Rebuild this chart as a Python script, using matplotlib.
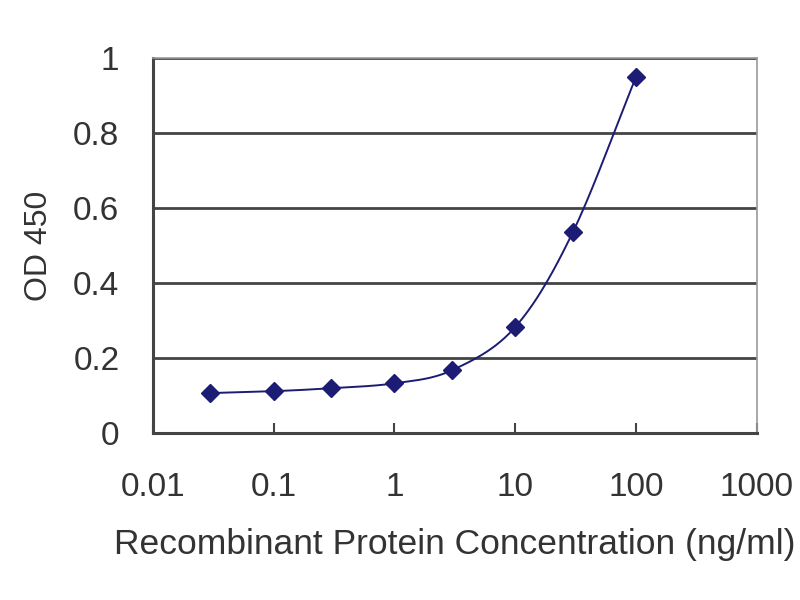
import numpy as np
import matplotlib
matplotlib.use("Agg")
import matplotlib.pyplot as plt

# ELISA standard curve
concentration = [0.03, 0.1, 0.3, 1, 3, 10, 30, 100]
od450 = [0.107, 0.112, 0.12, 0.133, 0.168, 0.283, 0.536, 0.95]

x_ticks = [0.01, 0.1, 1, 10, 100, 1000]
x_tick_labels = ["0.01", "0.1", "1", "10", "100", "1000"]
y_ticks = [0, 0.2, 0.4, 0.6, 0.8, 1]
y_tick_labels = ["0", "0.2", "0.4", "0.6", "0.8", "1"]

LINE_COLOR = "#1c1c74"
TEXT_COLOR = "#333333"


def smooth_line(xs, ys, steps=30):
    # Catmull-Rom through the points in log-x space, like a spreadsheet "smoothed line"
    lx = np.log10(xs)
    ys = np.asarray(ys, dtype=float)
    px = np.concatenate([[2 * lx[0] - lx[1]], lx, [2 * lx[-1] - lx[-2]]])
    py = np.concatenate([[2 * ys[0] - ys[1]], ys, [2 * ys[-1] - ys[-2]]])
    out_x, out_y = [], []
    t = np.linspace(0, 1, steps)
    for i in range(1, len(px) - 2):
        for p, out in ((px, out_x), (py, out_y)):
            p0, p1, p2, p3 = p[i - 1], p[i], p[i + 1], p[i + 2]
            seg = 0.5 * ((2 * p1) + (-p0 + p2) * t
                         + (2 * p0 - 5 * p1 + 4 * p2 - p3) * t ** 2
                         + (-p0 + 3 * p1 - 3 * p2 + p3) * t ** 3)
            out.extend(seg)
    return 10 ** np.array(out_x), np.array(out_y)


plt.rcParams["font.family"] = ["Liberation Sans", "DejaVu Sans"]

fig = plt.figure(figsize=(8, 6), dpi=100)
ax = fig.add_axes([0.191, 0.278, 0.755, 0.625])

sx, sy = smooth_line(concentration, od450)
ax.plot(sx, sy, color=LINE_COLOR, linewidth=1.4, zorder=3)
ax.plot(concentration, od450, linestyle="none", marker="D", markersize=9.5,
        color=LINE_COLOR, zorder=4)

ax.set_xscale("log")
ax.set_xlim(0.01, 1000)
ax.set_ylim(0, 1)
ax.set_xticks(x_ticks)
ax.set_xticklabels(x_tick_labels)
ax.minorticks_off()
ax.set_yticks(y_ticks)
ax.set_yticklabels(y_tick_labels)

for y in y_ticks[1:]:
    ax.axhline(y, color="#444444", linewidth=2, zorder=1)

for side in ("left", "bottom"):
    ax.spines[side].set_color("#444444")
    ax.spines[side].set_linewidth(2.2)
for side in ("top", "right"):
    ax.spines[side].set_color("#9a9a9a")
    ax.spines[side].set_linewidth(1.2)

ax.tick_params(axis="x", direction="in", length=7, width=1.5, color="#444444",
               labelsize=24, labelcolor=TEXT_COLOR, pad=28)
ax.tick_params(axis="y", length=0, labelsize=24, labelcolor=TEXT_COLOR, pad=24)

ax.set_xlabel("Recombinant Protein Concentration (ng/ml)", fontsize=25.5,
              color=TEXT_COLOR, labelpad=18)
ax.set_ylabel("OD 450", fontsize=23, color=TEXT_COLOR, labelpad=14)

fig.savefig("out.png", dpi=100)
